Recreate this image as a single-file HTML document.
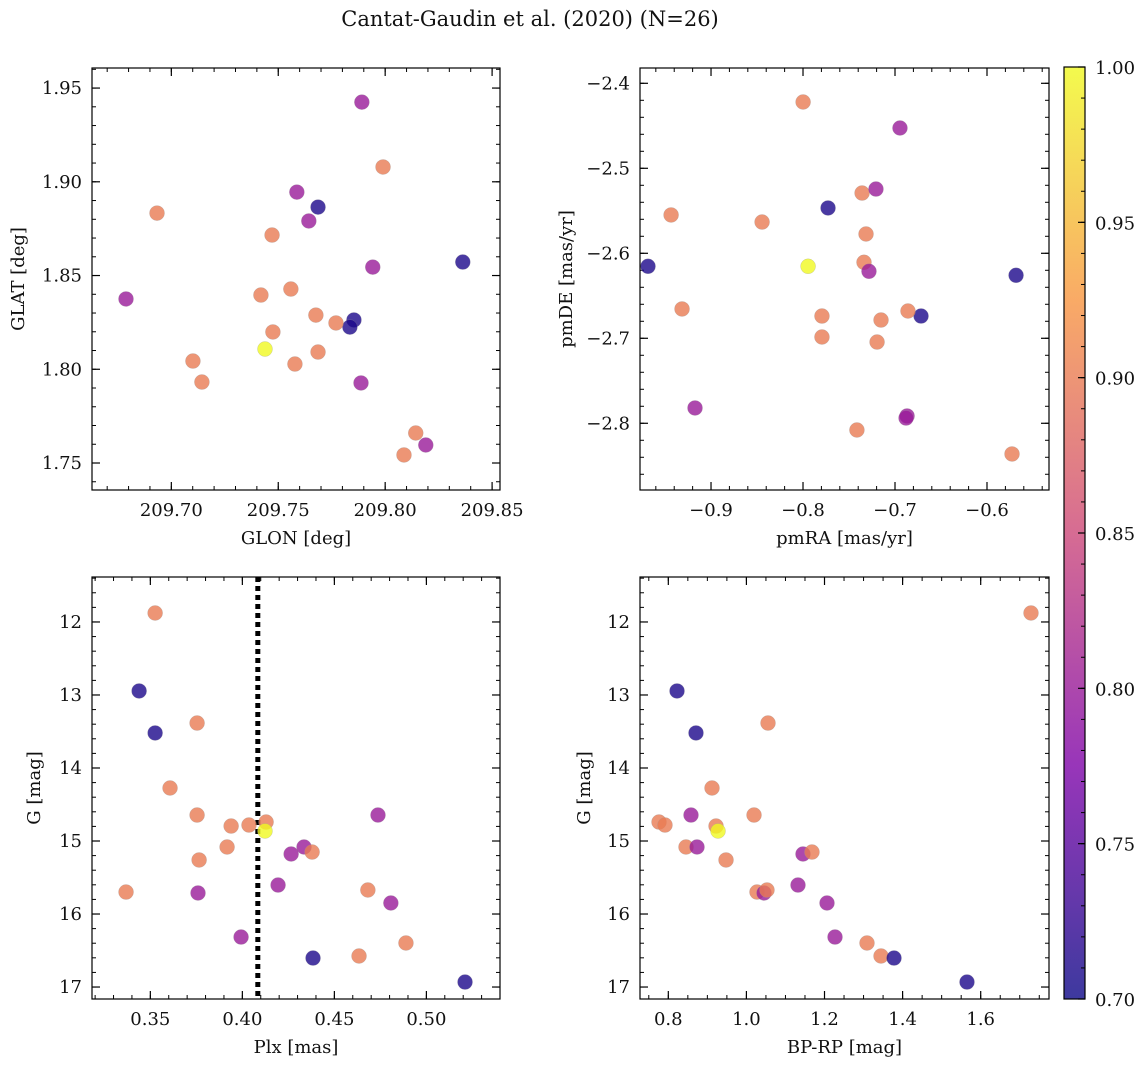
<!DOCTYPE html>
<html><head><meta charset="utf-8"><style>
body{margin:0;background:#fff;}
svg text{font-family:"DejaVu Serif","Liberation Serif",serif;fill:#111;}
</style></head><body>
<svg id="fig" width="1148" height="1067" xmlns="http://www.w3.org/2000/svg">
<defs>
<linearGradient id="plasma" x1="0" y1="1" x2="0" y2="0">
<stop offset="0" stop-color="#0d0887"/><stop offset="0.25" stop-color="#7e03a8"/><stop offset="0.5" stop-color="#cc4778"/><stop offset="0.75" stop-color="#f89540"/><stop offset="1" stop-color="#f0f921"/>
</linearGradient>
</defs>
<text x="530" y="26" font-size="21" text-anchor="middle">Cantat-Gaudin et al. (2020) (N=26)</text>
</svg>
<script>
// Panel 1: GLON vs GLAT
const glon1=[209.8363,209.7891,209.7990,209.6933,209.7587,209.7686,209.7471,209.7643,209.7942,209.6788,209.7419,209.7559,209.7676,209.7854,209.7835,209.7770,209.7475,209.7438,209.7686,209.7101,209.7578,209.7143,209.7887,209.8143,209.8190,209.8088];
const glat1=[1.8572,1.9425,1.9079,1.8833,1.8945,1.8865,1.8716,1.8791,1.8545,1.8375,1.8396,1.8428,1.8289,1.8263,1.8225,1.8247,1.8199,1.8108,1.8092,1.8044,1.8028,1.7932,1.7927,1.766,1.7596,1.7543];
const prob1=[0.71,0.80,0.90,0.90,0.80,0.71,0.90,0.80,0.80,0.80,0.90,0.90,0.90,0.71,0.71,0.90,0.90,1.0,0.90,0.90,0.90,0.90,0.80,0.90,0.80,0.90];
// Panel 2: pmRA vs pmDE
const pmra2=[-0.7999,-0.6946,-0.9434,-0.8445,-0.7728,-0.7358,-0.7207,-0.7315,-0.9685,-0.7945,-0.7337,-0.7283,-0.5684,-0.9315,-0.6717,-0.6859,-0.7794,-0.7152,-0.7794,-0.7195,-0.9174,-0.6869,-0.688,-0.7414,-0.5728];
const pmde2=[-2.422,-2.4526,-2.5549,-2.5632,-2.5467,-2.5291,-2.5244,-2.5773,-2.6153,-2.6153,-2.6106,-2.6212,-2.6259,-2.6655,-2.6738,-2.6679,-2.6738,-2.6785,-2.6985,-2.7044,-2.782,-2.7914,-2.7938,-2.8079,-2.8361];
const prob2=[0.90,0.80,0.90,0.90,0.71,0.90,0.80,0.90,0.71,1.0,0.90,0.80,0.71,0.90,0.71,0.90,0.90,0.90,0.90,0.90,0.80,0.80,0.80,0.90,0.90];
// Panel 3: Plx vs G
const plx3=[0.3526,0.3439,0.3526,0.3754,0.3607,0.3754,0.4737,0.3939,0.4036,0.4129,0.4123,0.3917,0.4335,0.4265,0.4379,0.3765,0.4194,0.3368,0.3759,0.4682,0.4807,0.3993,0.4889,0.4634,0.4384,0.5210];
const g3=[11.877,12.945,13.52,13.384,14.274,14.644,14.644,14.795,14.781,14.74,14.863,15.082,15.082,15.178,15.151,15.26,15.603,15.699,15.712,15.671,15.849,16.315,16.397,16.575,16.603,16.932];
const prob3=[0.90,0.71,0.71,0.90,0.90,0.90,0.80,0.90,0.90,0.90,1.0,0.90,0.80,0.80,0.90,0.90,0.80,0.90,0.80,0.90,0.80,0.80,0.90,0.90,0.71,0.71];
const plxLine=[0.4084];
// Panel 4: BP-RP vs G
const bprp4=[1.7288,0.8223,0.8709,1.0553,0.9119,1.0195,0.8581,0.7762,0.7915,0.9222,0.9273,0.8453,0.8735,1.1449,1.1679,0.9478,1.1321,1.0271,1.0451,1.0527,1.2064,1.2269,1.3088,1.3447,1.378,1.5649];
const g4=[11.877,12.945,13.52,13.384,14.274,14.644,14.644,14.74,14.781,14.795,14.863,15.082,15.082,15.178,15.151,15.26,15.603,15.699,15.712,15.671,15.849,16.315,16.397,16.575,16.603,16.932];
const prob4=[0.90,0.71,0.71,0.90,0.90,0.90,0.80,0.90,0.90,0.90,1.0,0.90,0.80,0.80,0.90,0.90,0.80,0.90,0.80,0.90,0.80,0.80,0.90,0.90,0.71,0.71];
// Tick labels
const xt1=[209.70,209.75,209.80,209.85], yt1=[1.75,1.80,1.85,1.90,1.95];
const xt2=[-0.9,-0.8,-0.7,-0.6], yt2=[-2.8,-2.7,-2.6,-2.5,-2.4];
const xt3=[0.35,0.40,0.45,0.50], yt3=[12,13,14,15,16,17];
const xt4=[0.8,1.0,1.2,1.4,1.6], yt4=[12,13,14,15,16,17];
const cbt=[0.70,0.75,0.80,0.85,0.90,0.95,1.00];

const NS='http://www.w3.org/2000/svg';
const svg=document.getElementById('fig');
function mk(tag,attrs,parent){const e=document.createElementNS(NS,tag);for(const k in attrs)e.setAttribute(k,attrs[k]);(parent||svg).appendChild(e);return e;}
const stops=[[0,[13,8,135]],[0.25,[126,3,168]],[0.5,[204,71,120]],[0.75,[248,149,64]],[1,[240,249,33]]];
function plasma(p){let t=Math.max(0,Math.min(1,(p-0.7)/0.3));for(let i=0;i<stops.length-1;i++){const a=stops[i],b=stops[i+1];if(t<=b[0]){const f=(t-a[0])/(b[0]-a[0]);const c=a[1].map((v,j)=>Math.round(v+(b[1][j]-v)*f));return `rgb(${c[0]},${c[1]},${c[2]})`;}}return 'rgb(240,249,33)';}
function fmt(v,d){return (v<0?'\u2212':'')+Math.abs(v).toFixed(d);}

function panel(o){
  const g=mk('g',{});
  
  
  const X=v=>o.L+(v-o.x0)/(o.x1-o.x0)*(o.R-o.L);
  const Y=o.inv?(v=>o.T+(v-o.y0)/(o.y1-o.y0)*(o.B-o.T)):(v=>o.B-(v-o.y0)/(o.y1-o.y0)*(o.B-o.T));
  for(let v=Math.ceil(o.x0/o.xm-1e-6)*o.xm;v<=o.x1+1e-9;v+=o.xm){const x=X(v);mk('line',{x1:x,x2:x,y1:o.B,y2:o.B-4,stroke:'#000','stroke-width':1},g);mk('line',{x1:x,x2:x,y1:o.T,y2:o.T+4,stroke:'#000','stroke-width':1},g);}
  for(let v=Math.ceil(o.y0/o.ym-1e-6)*o.ym;v<=o.y1+1e-9;v+=o.ym){const y=Y(v);mk('line',{x1:o.L,x2:o.L+4,y1:y,y2:y,stroke:'#000','stroke-width':1},g);mk('line',{x1:o.R,x2:o.R-4,y1:y,y2:y,stroke:'#000','stroke-width':1},g);}
  o.xt.forEach(v=>{const x=X(v);mk('line',{x1:x,x2:x,y1:o.B,y2:o.B-8,stroke:'#000','stroke-width':1.2},g);mk('line',{x1:x,x2:x,y1:o.T,y2:o.T+8,stroke:'#000','stroke-width':1.2},g);
    const t=mk('text',{x:x,y:o.B+26,'font-size':18,'text-anchor':'middle'},g);t.textContent=fmt(v,o.xd);
    });
  o.yt.forEach(v=>{const y=Y(v);mk('line',{x1:o.L,x2:o.L+8,y1:y,y2:y,stroke:'#000','stroke-width':1.2},g);mk('line',{x1:o.R,x2:o.R-8,y1:y,y2:y,stroke:'#000','stroke-width':1.2},g);
    const t=mk('text',{x:o.L-10,y:y+6,'font-size':18,'text-anchor':'end'},g);t.textContent=fmt(v,o.yd);
    });
  if(o.vline){o.vline.forEach(v=>{const l=mk('line',{x1:X(v),x2:X(v),y1:o.T,y2:o.B,stroke:'#000','stroke-width':5,'stroke-dasharray':'5,4'},g);
    });}
  o.xs.forEach((v,i)=>{const c=mk('circle',{cx:X(v),cy:Y(o.ys[i]),r:7.5,fill:plasma(o.ps[i]),'fill-opacity':0.8,stroke:'#999','stroke-width':0.4,'stroke-opacity':0.6},g);
    });
  const fr=mk('rect',{x:o.L,y:o.T,width:o.R-o.L,height:o.B-o.T,fill:'none',stroke:'#000','stroke-width':1.2},g);
  
  const xl=mk('text',{x:(o.L+o.R)/2,y:o.B+54,'font-size':18,'text-anchor':'middle'},g);xl.textContent=o.xl;
  
  const yx=o.ylx,yy=(o.T+o.B)/2;
  const yl=mk('text',{x:yx,y:yy,'font-size':18,'text-anchor':'middle',transform:`rotate(-90 ${yx} ${yy})`},g);yl.textContent=o.yl;
  
}
panel({name:'glon-glat-panel',L:92,R:500,T:68,B:490,x0:209.6629,x1:209.8537,y0:1.7356,y1:1.9607,xm:0.01,ym:0.01,xt:xt1,yt:yt1,xd:2,yd:2,xs:glon1,ys:glat1,ps:prob1,xl:'GLON [deg]',yl:'GLAT [deg]',ylx:24});
panel({name:'proper-motion-panel',L:640,R:1049,T:68,B:490,x0:-0.9772,x1:-0.5326,y0:-2.8785,y1:-2.382,xm:0.02,ym:0.02,xt:xt2,yt:yt2,xd:1,yd:1,xs:pmra2,ys:pmde2,ps:prob2,xl:'pmRA [mas/yr]',yl:'pmDE [mas/yr]',ylx:572});
panel({name:'plx-g-panel',L:92,R:500,T:577,B:999,x0:0.3183,x1:0.5400,y0:11.384,y1:17.164,inv:true,xm:0.01,ym:0.2,xt:xt3,yt:yt3,xd:2,yd:0,xs:plx3,ys:g3,ps:prob3,xl:'Plx [mas]',yl:'G [mag]',ylx:40,vline:plxLine});
panel({name:'cmd-panel',L:640,R:1049,T:577,B:999,x0:0.7275,x1:1.7749,y0:11.384,y1:17.164,inv:true,xm:0.05,ym:0.2,xt:xt4,yt:yt4,xd:1,yd:0,xs:bprp4,ys:g4,ps:prob4,xl:'BP-RP [mag]',yl:'G [mag]',ylx:590});
// colorbar
const cb=mk('g',{});


mk('rect',{x:1064,y:67,width:21,height:932,fill:'url(#plasma)','fill-opacity':0.8},cb);
mk('rect',{x:1064,y:67,width:21,height:932,fill:'none',stroke:'#000','stroke-width':1.2},cb);
const CY=v=>999-(v-0.7)/0.3*932;
for(let v=0.70;v<=1.0001;v+=0.01){mk('line',{x1:1085,x2:1081,y1:CY(v),y2:CY(v),stroke:'#000','stroke-width':1},cb);}
cbt.forEach(v=>{mk('line',{x1:1085,x2:1078,y1:CY(v),y2:CY(v),stroke:'#000','stroke-width':1.2},cb);
  const t=mk('text',{x:1095,y:CY(v)+7,'font-size':18},cb);t.textContent=v.toFixed(2);
  });
</script>
</body></html>
